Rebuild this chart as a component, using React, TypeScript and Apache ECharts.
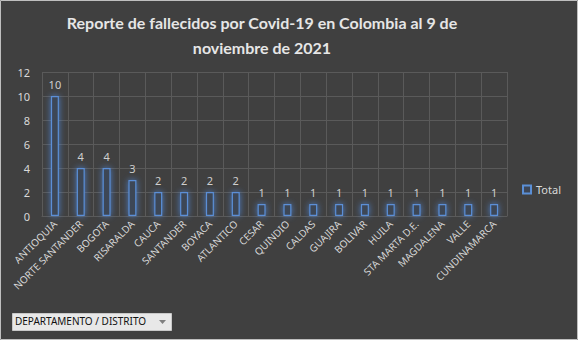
import React, { useEffect, useRef } from "react";
import * as echarts from "echarts";

const titleText = "Reporte de fallecidos por Covid-19 en Colombia al 9 de\nnoviembre de 2021";
const categories = [
  "ANTIOQUIA", "NORTE SANTANDER", "BOGOTA", "RISARALDA", "CAUCA", "SANTANDER",
  "BOYACA", "ATLANTICO", "CESAR", "QUINDIO", "CALDAS", "GUAJIRA", "BOLIVAR",
  "HUILA", "STA MARTA D.E.", "MAGDALENA", "VALLE", "CUNDINAMARCA",
];
const totals = [10, 4, 4, 3, 2, 2, 2, 2, 1, 1, 1, 1, 1, 1, 1, 1, 1, 1];
const seriesName = "Total";
const filterLabel = "DEPARTAMENTO / DISTRITO";

export default function App() {
  const ref = useRef<HTMLDivElement>(null);
  useEffect(() => {
    if (!ref.current) return;
    const chart = echarts.init(ref.current, null, { renderer: "svg" });
    const txt = "#d9d9d9";
    const grid = "#5a5a5a";
    chart.setOption({
      animation: false,
      backgroundColor: "#404040",
      textStyle: { fontFamily: "Noto Sans" },
      legend: {
        data: [seriesName],
        right: 12,
        top: 179,
        itemWidth: 8,
        itemHeight: 8,
        itemGap: 4,
        icon: "rect",
        textStyle: { color: txt, fontSize: 11, fontFamily: "Noto Sans" },
      },
      grid: { left: 42, right: 71, top: 72, bottom: 124, containLabel: false },
      xAxis: {
        type: "category",
        data: categories,
        axisLine: { show: true, lineStyle: { color: grid } },
        axisTick: { show: false },
        splitLine: { show: true, lineStyle: { color: grid, width: 1 } },
        axisLabel: {
          color: txt,
          fontSize: 10,
          rotate: 45,
          interval: 0,
          margin: 6,
          fontFamily: "Noto Sans",
        },
      },
      yAxis: {
        type: "value",
        min: 0,
        max: 12,
        interval: 2,
        axisLine: { show: false },
        axisTick: { show: false },
        splitLine: { lineStyle: { color: grid, width: 1 } },
        axisLabel: { color: txt, fontSize: 11, margin: 12, fontFamily: "Noto Sans" },
      },
      series: [
        {
          name: seriesName,
          type: "bar",
          data: totals,
          barWidth: 8,
          itemStyle: {
            color: "#3d4656",
            borderColor: "#5b8fd6",
            borderWidth: 1.2,
            shadowColor: "rgba(80,140,230,0.8)",
            shadowBlur: 6,
          },
          label: {
            show: true,
            position: "top",
            distance: 6,
            color: "#cfcfcf",
            fontSize: 11,
            fontFamily: "Noto Sans",
          },
        },
      ],
      graphic: [
        {
          type: "rect",
          shape: { x: 0.5, y: 0.5, width: 577, height: 339 },
          style: { fill: "none", stroke: "#bfbfbf", lineWidth: 1 },
          silent: true,
        },
        {
          type: "text",
          x: 262,
          y: 10,
          style: {
            text: titleText,
            fill: "#e6e6e6",
            fontSize: 16,
            fontWeight: "bold",
            fontFamily: "Lato",
            lineHeight: 25,
            align: "center",
            verticalAlign: "top",
          },
        },
        {
          type: "rect",
          shape: { x: 12.5, y: 313.5, width: 159, height: 17 },
          style: { fill: "#e8e8e8", stroke: "#c8c8c8", lineWidth: 1 },
        },
        {
          type: "text",
          x: 15,
          y: 316,
          style: {
            text: filterLabel,
            fill: "#111111",
            fontSize: 10,
            fontFamily: "Noto Sans",
          },
        },
        {
          type: "polygon",
          shape: { points: [[159, 320], [166, 320], [162.5, 324]] },
          style: { fill: "#7f7f7f" },
        },
      ],
    });
    return () => chart.dispose();
  }, []);
  return (
    <div
      ref={ref}
      style={{ position: "absolute", left: 0, top: 0, width: 578, height: 340 }}
    />
  );
}
